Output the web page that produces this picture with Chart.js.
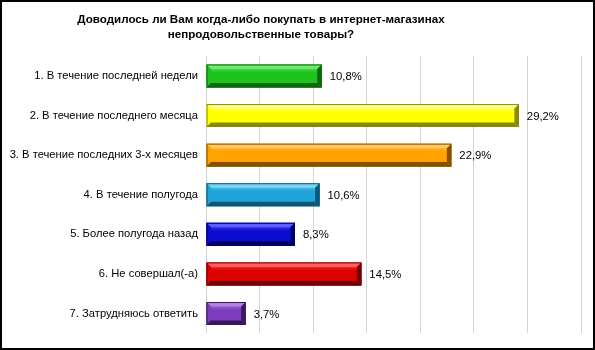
<!DOCTYPE html>
<html>
<head>
<meta charset="utf-8">
<script src="https://cdn.jsdelivr.net/npm/chart.js@4"></script>
<style>
  html, body { margin: 0; padding: 0; background: #ffffff; }
  #wrap { position: absolute; left: 0; top: 0; width: 595px; height: 350px; box-sizing: border-box; border: 2px solid #000; background: #fff; }
  canvas { display: block; }
</style>
</head>
<body>
<div id="wrap"><canvas id="c" width="591" height="346"></canvas></div>
<script>
const titleLines = ['Доводилось ли Вам когда-либо покупать в интернет-магазинах', 'непродовольственные товары?'];
const categories = [
  '1. В течение последней недели',
  '2. В течение последнего месяца',
  '3. В течение последних 3-х месяцев',
  '4. В течение полугода',
  '5. Более полугода назад',
  '6. Не совершал(-а)',
  '7. Затрудняюсь ответить'
];
const values = [10.8, 29.2, 22.9, 10.6, 8.3, 14.5, 3.7];
const mainColors  = ['#1ec41e', '#ffff00', '#ffa200', '#1fa4d8', '#0c0cd0', '#dc0000', '#7c3cbc'];
const lightColors = ['#72e872', '#ffff9a', '#ffc866', '#80d2f2', '#5c5cff', '#ff6060', '#b482e2'];
const darkColors  = ['#0a6a0a', '#8a8a00', '#875000', '#0b5878', '#000066', '#740000', '#3a1860'];
const xMax = 35, xStep = 5;

const FONT = '"Liberation Sans", Arial, sans-serif';

const bevelPlugin = {
  id: 'bevel',
  afterDatasetsDraw(chart) {
    const ctx = chart.ctx;
    const meta = chart.getDatasetMeta(0);
    meta.data.forEach((bar, i) => {
      const p = bar.getProps(['x', 'y', 'base', 'height'], true);
      const l = Math.min(p.base, p.x), r = Math.max(p.base, p.x);
      const t = p.y - p.height / 2, bt = p.y + p.height / 2;
      const b = Math.min(4.5, (r - l) / 3);
      ctx.save();
      const g = ctx.createLinearGradient(0, t, 0, bt);
      g.addColorStop(0, lightColors[i]);
      g.addColorStop(0.35, mainColors[i]);
      g.addColorStop(1, mainColors[i]);
      ctx.fillStyle = g;
      ctx.fillRect(l, t, r - l, bt - t);
      const poly = (pts, col) => {
        ctx.beginPath();
        ctx.moveTo(pts[0][0], pts[0][1]);
        for (let k = 1; k < pts.length; k++) ctx.lineTo(pts[k][0], pts[k][1]);
        ctx.closePath();
        ctx.fillStyle = col;
        ctx.fill();
      };
      poly([[l, t], [r, t], [r - b, t + b], [l + b, t + b]], lightColors[i]);
      poly([[l, t], [l + b, t + b], [l + b, bt - b], [l, bt]], mainColors[i]);
      poly([[l, bt], [l + b, bt - b], [r - b, bt - b], [r, bt]], darkColors[i]);
      poly([[r, t], [r, bt], [r - b, bt - b], [r - b, t + b]], darkColors[i]);
      ctx.strokeStyle = darkColors[i];
      ctx.lineWidth = 1;
      ctx.strokeRect(l + 0.5, t + 0.5, r - l - 1, bt - t - 1);
      ctx.fillStyle = '#000';
      ctx.font = '11.3px ' + FONT;
      ctx.textAlign = 'left';
      ctx.textBaseline = 'middle';
      ctx.fillText(values[i].toFixed(1).replace('.', ',') + '%', r + 8, p.y + 1);
      ctx.restore();
    });
  }
};

const titleShift = {
  id: 'titleShift',
  afterLayout(chart) {
    const tb = chart.titleBlock;
    if (tb) { tb.left = 0; tb.right = 518; }
  }
};

new Chart(document.getElementById('c'), {
  type: 'bar',
  data: {
    labels: categories,
    datasets: [{
      data: values,
      backgroundColor: mainColors,
      borderWidth: 0,
      barPercentage: 1,
      categoryPercentage: 0.58
    }]
  },
  options: {
    indexAxis: 'y',
    responsive: false,
    animation: false,
    devicePixelRatio: 1,
    layout: { padding: { left: 0, right: 12, top: 0, bottom: 10 } },
    plugins: {
      legend: { display: false },
      tooltip: { enabled: false },
      title: {
        display: true,
        text: titleLines,
        color: '#000',
        font: { family: FONT, size: 11.6, weight: 'bold', lineHeight: 1.3 },
        padding: { top: 10, bottom: 14 }
      }
    },
    scales: {
      x: {
        min: 0, max: xMax,
        ticks: { display: false, stepSize: xStep },
        grid: { color: '#d4d4d4', lineWidth: 1, drawTicks: false },
        border: { display: false }
      },
      y: {
        ticks: { color: '#000', font: { family: FONT, size: 11.2 }, padding: 8 },
        grid: { display: false, drawTicks: false },
        border: { display: false },
        afterFit(s) { s.width = 204; }
      }
    }
  },
  plugins: [titleShift, bevelPlugin]
});
</script>
</body>
</html>
